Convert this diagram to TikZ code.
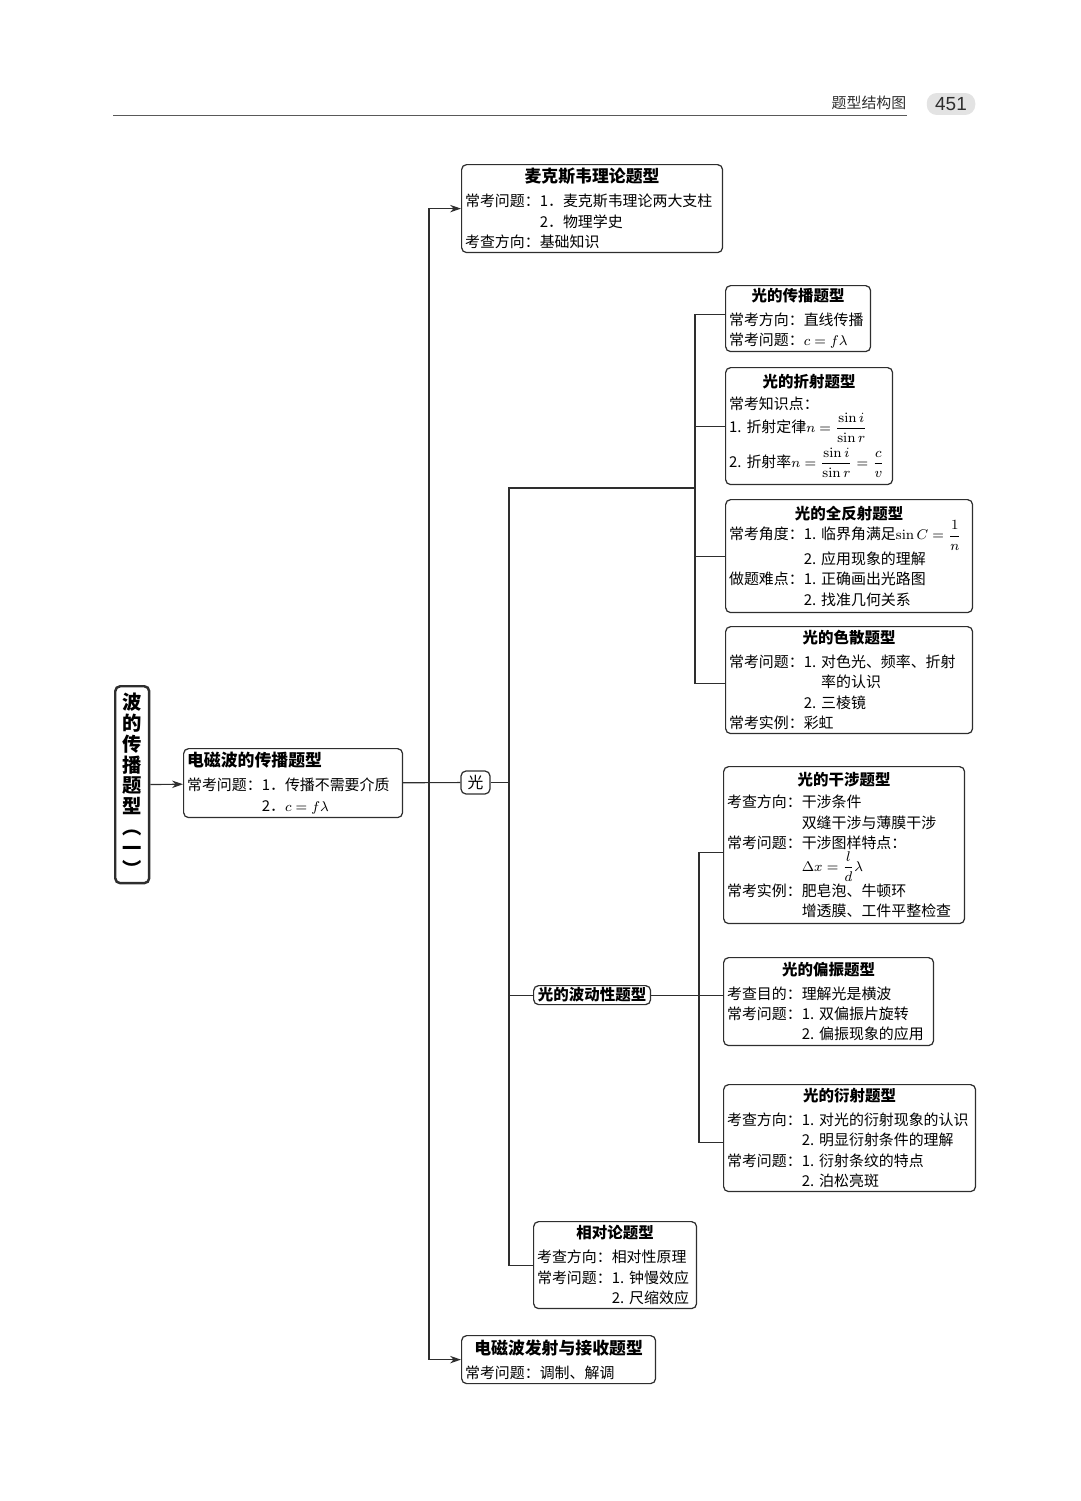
\documentclass[tikz,border=0pt]{standalone}
\usepackage[no-math]{fontspec}
\usepackage{amsmath}
\setmainfont{Noto Sans CJK SC}
\newfontfamily\numfont{Liberation Sans}
\usetikzlibrary{positioning, arrows.meta, calc}

\definecolor{ink}{HTML}{2E2E2E}
\newcommand\bigttl[1]{\makebox[\linewidth]{\bfseries\fontsize{9.6pt}{11.6pt}\selectfont #1}}
\newcommand\ttl[1]{\makebox[\linewidth]{\bfseries\fontsize{8.8pt}{11.6pt}\selectfont #1}}
\newcommand\ind{\hspace*{5em}}

\tikzset{
  card/.style={draw=ink, line width=0.7pt, rounded corners=0.1cm, anchor=north west,
    align=left, inner xsep=0.07cm, inner ysep=0.03cm,
    font=\fontsize{8.5pt}{11.6pt}\selectfont},
  link/.style={draw=ink, line width=0.65pt},
  arr/.style={link, -{Stealth[length=2.2mm, width=1.5mm]}},
}

\begin{document}
\begin{tikzpicture}[x=0.02cm, y=-0.02cm]
    \useasboundingbox (0,0) rectangle (1080,1501);

    % page header
    \node[font=\fontsize{8.5pt}{10pt}\selectfont, text=ink] (hdr) at (869,103) {题型结构图};
    \node[fill=gray!22, rounded corners=0.2cm, minimum width=0.97cm, minimum height=0.44cm,
          inner sep=0pt, font=\numfont\fontsize{10.8pt}{12pt}\selectfont, text=ink] (pg) at (951,104) {451};
    \draw[gray!70!black, line width=0.5pt] (113,115) -- (907,115);

    % root
    \node[draw=ink, line width=1.4pt, rounded corners=0.1cm, anchor=north west,
          minimum width=0.68cm, minimum height=3.94cm, inner sep=0pt, align=center,
          font=\bfseries\fontsize{11pt}{11.9pt}\selectfont] (root) at (114,685)
          {波\\的\\传\\播\\题\\型\\︵\\一\\︶};

    \node[card, text width=4.24cm, minimum height=1.38cm] (em1) at (183,748)
        {{\bfseries\fontsize{9.6pt}{11.6pt}\selectfont 电磁波的传播题型}\\[2pt]
         常考问题：1．传播不需要介质\\
         \ind 2．$c=f\lambda$};

    \node[draw=ink, line width=0.7pt, rounded corners=0.1cm, minimum width=0.58cm,
          minimum height=0.46cm, inner sep=0pt, font=\fontsize{9pt}{10pt}\selectfont] (guang) at (475.5,782.5) {光};

    % upper and lower branches
    \node[card, text width=5.08cm, minimum height=1.76cm] (mx) at (461,164)
        {\bigttl{麦克斯韦理论题型}\\[2pt]
         常考问题：1．麦克斯韦理论两大支柱\\
         \ind 2．物理学史\\
         考查方向：基础知识};

    \node[card, text width=3.74cm, minimum height=0.96cm] (fs) at (461,1335)
        {\bigttl{电磁波发射与接收题型}\\[2pt]
         常考问题：调制、解调};

    % geometric optics
    \node[card, text width=2.76cm, minimum height=1.32cm] (cb) at (725,285)
        {\ttl{光的传播题型}\\[2pt]
         常考方向：直线传播\\
         常考问题：$c=f\lambda$};

    \node[card, text width=3.2cm, minimum height=2.34cm] (zs) at (725,367)
        {\ttl{光的折射题型}\\[1pt]
         常考知识点：\\
         1.~折射定律$n=\dfrac{\sin i}{\sin r}$\\[2pt]
         2.~折射率$n=\dfrac{\sin i}{\sin r}=\dfrac{c}{v}$};

    \node[card, text width=4.8cm, minimum height=2.26cm] (qf) at (725,499)
        {\ttl{光的全反射题型}\\
         常考角度：1.~临界角满足$\sin C=\dfrac{1}{n}$\\
         \ind 2.~应用现象的理解\\
         做题难点：1.~正确画出光路图\\
         \ind 2.~找准几何关系};

    \node[card, text width=4.8cm, minimum height=2.14cm] (ss) at (725,626)
        {\ttl{光的色散题型}\\[2pt]
         常考问题：1.~对色光、频率、折射\\
         \ind\phantom{1.~}率的认识\\
         \ind 2.~三棱镜\\
         常考实例：彩虹};

    % wave optics
    \node[draw=ink, line width=0.7pt, rounded corners=0.1cm, anchor=north west,
          minimum width=2.34cm, minimum height=0.38cm, inner sep=0pt,
          font=\bfseries\fontsize{8.8pt}{10pt}\selectfont] (bd) at (533,985) {光的波动性题型};

    \node[card, text width=4.68cm, minimum height=3.14cm] (gs) at (723,766)
        {\ttl{光的干涉题型}\\[1pt]
         考查方向：干涉条件\\
         \ind 双缝干涉与薄膜干涉\\
         常考问题：干涉图样特点：\\
         \ind $\Delta x=\dfrac{l}{d}\lambda$\\
         常考实例：肥皂泡、牛顿环\\
         \ind 增透膜、工件平整检查};

    \node[card, text width=4.06cm, minimum height=1.76cm] (pz) at (723,957)
        {\ttl{光的偏振题型}\\[2pt]
         考查目的：理解光是横波\\
         常考问题：1.~双偏振片旋转\\
         \ind 2.~偏振现象的应用};

    \node[card, text width=4.9cm, minimum height=2.14cm] (ys) at (723,1084)
        {\ttl{光的衍射题型}\\[2pt]
         考查方向：1.~对光的衍射现象的认识\\
         \ind 2.~明显衍射条件的理解\\
         常考问题：1.~衍射条纹的特点\\
         \ind 2.~泊松亮斑};

    \node[card, text width=3.12cm, minimum height=1.74cm] (xd) at (533,1221)
        {\ttl{相对论题型}\\[2pt]
         考查方向：相对性原理\\
         常考问题：1.~钟慢效应\\
         \ind 2.~尺缩效应};

    % connectors
    \draw[arr] (root) -- (em1);
    \coordinate (t1) at (429,782.5);
    \draw[link] (em1) -- (guang);
    \draw[arr] (t1) |- (mx.west);
    \draw[arr] (t1) |- (fs.west);

    \coordinate (t2) at (509,782.5);
    \coordinate (j1) at (695,488);
    \draw[link] (guang) -- (t2);
    \draw[link] (t2) |- (j1);
    \draw[link] (t2) |- (bd.west);
    \draw[link] (t2) |- (xd.west);

    \draw[link] ([yshift=0.08cm]cb.west) -| (j1);
    \draw[link] ([yshift=-0.07cm]ss.west) -| (j1);
    \draw[link] (zs.west) -- (zs.west -| j1);
    \draw[link] (qf.west) -- (qf.west -| j1);

    \coordinate (j2) at (699,994.5);
    \draw[link] (bd.east) -- (bd.east -| pz.west);
    \draw[link] ([yshift=-0.15cm]gs.west) -| (j2);
    \draw[link] ([yshift=-0.09cm]ys.west) -| (j2);
\end{tikzpicture}
\end{document}
